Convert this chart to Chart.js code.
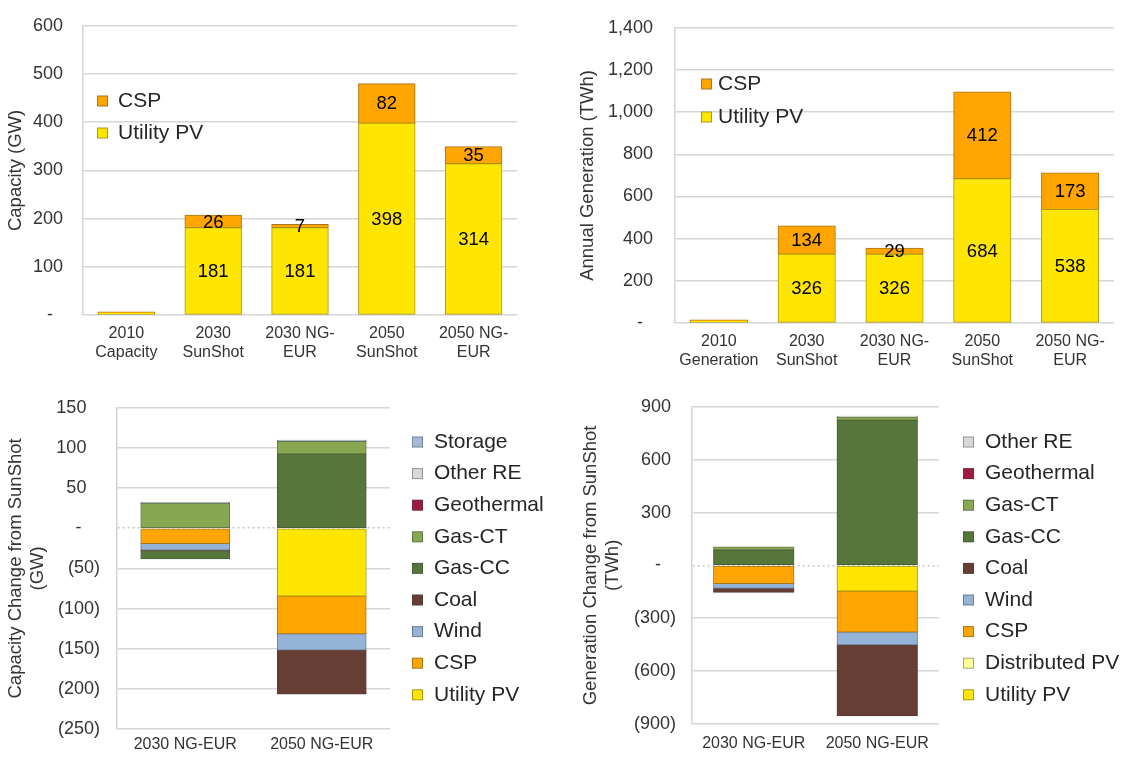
<!DOCTYPE html>
<html>
<head>
<meta charset="utf-8">
<script src="https://cdn.jsdelivr.net/npm/chart.js@4.4.1/dist/chart.umd.min.js"></script>
<style>
  html, body { margin: 0; padding: 0; background: #fff; }
  #page { position: relative; width: 1126px; height: 761px; }
  .box { position: absolute; }
</style>
</head>
<body>
<div id="page">
  <div class="box" style="left:0;top:0;width:563px;height:380px"><canvas id="capChart"></canvas></div>
  <div class="box" style="left:563px;top:0;width:563px;height:380px"><canvas id="genChart"></canvas></div>
  <div class="box" style="left:0;top:380px;width:563px;height:381px"><canvas id="capChangeChart"></canvas></div>
  <div class="box" style="left:563px;top:380px;width:563px;height:381px"><canvas id="genChangeChart"></canvas></div>
</div>
<script>
// top charts
const capCategories = [['2010', 'Capacity'], ['2030', 'SunShot'], ['2030 NG-', 'EUR'], ['2050', 'SunShot'], ['2050 NG-', 'EUR']];
const genCategories = [['2010', 'Generation'], ['2030', 'SunShot'], ['2030 NG-', 'EUR'], ['2050', 'SunShot'], ['2050 NG-', 'EUR']];
const capUtilityPV = [1.5, 181, 181, 398, 314];
const capCSP = [0.5, 26, 7, 82, 35];
const genUtilityPV = [3, 326, 326, 684, 538];
const genCSP = [1, 134, 29, 412, 173];

// bottom charts: change from SunShot
const changeCategories = ['2030 NG-EUR', '2050 NG-EUR'];
// GW
const capChUtilityPV = [0, -84.5];
const capChCSP = [-19, -47];
const capChWind = [-8, -20];
const capChCoal = [-1, -55];
const capChGasCC = [-10, 92.5];
const capChGasCT = [31, 15.5];
const capChGeothermal = [0, 0];
const capChOtherRE = [0, 0];
const capChStorage = [1, 1.5];
// TWh
const genChUtilityPV = [0, -145];
const genChDistPV = [0, 0];
const genChCSP = [-103, -233];
const genChWind = [-27, -72];
const genChCoal = [-22, -403];
const genChGasCC = [87, 824];
const genChGasCT = [18, 16];
const genChGeothermal = [0, 0];
const genChOtherRE = [0, 6];

const colors = {
  'Utility PV': '#FFE600',
  'Distributed PV': '#FFFF99',
  'CSP': '#FFA500',
  'Wind': '#95B3D7',
  'Coal': '#673E33',
  'Gas-CC': '#56763A',
  'Gas-CT': '#87A851',
  'Geothermal': '#A01A40',
  'Other RE': '#D9D9D9',
  'Storage': '#A5B9DB'
};

const FONT = '"Liberation Sans", Arial, sans-serif';
const TEXT = '#333333';
const GRID = '#d6d6d6';

// darker outline of the same hue, like the Excel bar borders
const edge = (hex) => {
  const n = parseInt(hex.slice(1), 16);
  const mix = (c) => Math.round(c * 0.55 + 60 * 0.45);
  return 'rgb(' + mix(n >> 16) + ',' + mix((n >> 8) & 255) + ',' + mix(n & 255) + ')';
};

// accounting style ticks: 1,400  (300)  -
const fmtTick = (v, posPad, zeroPad) => {
  if (v === 0) return '-' + zeroPad;
  const s = Math.abs(v).toLocaleString('en-US');
  return v < 0 ? '(' + s + ')' : s + posPad;
};

const boxLegend = {
  id: 'boxLegend',
  afterDraw(chart, args, opts) {
    if (!opts.items) return;
    const ctx = chart.ctx;
    ctx.save();
    ctx.font = '21px ' + FONT;
    ctx.textBaseline = 'middle';
    ctx.textAlign = 'left';
    opts.items.forEach((name, i) => {
      const y = opts.y + i * opts.step;
      ctx.fillStyle = edge(colors[name]);
      ctx.fillRect(opts.x, y - 5.5, 11, 11);
      ctx.fillStyle = colors[name];
      ctx.fillRect(opts.x + 1, y - 4.5, 9, 9);
      ctx.fillStyle = '#262626';
      ctx.fillText(name, opts.textX, y);
    });
    ctx.restore();
  }
};

const segmentLabels = {
  id: 'segmentLabels',
  afterDatasetsDraw(chart, args, opts) {
    if (!opts.show) return;
    const ctx = chart.ctx;
    ctx.save();
    ctx.font = '18.5px ' + FONT;
    ctx.fillStyle = '#000';
    ctx.textAlign = 'center';
    ctx.textBaseline = 'middle';
    chart.data.datasets.forEach((ds, i) => {
      chart.getDatasetMeta(i).data.forEach((bar, j) => {
        if (j < opts.skip) return;
        ctx.fillText(Math.round(ds.data[j]), bar.x, (bar.y + bar.base) / 2 + 1);
      });
    });
    ctx.restore();
  }
};

Chart.register(boxLegend, segmentLabels);

const makeDataset = (name, values, minLen) => ({
  label: name,
  data: values,
  backgroundColor: colors[name],
  borderColor: edge(colors[name]),
  borderWidth: 1,
  borderSkipped: false,
  inflateAmount: 0.5,
  minBarLength: minLen || 0,
  barPercentage: 0.65,
  categoryPercentage: 1
});

const buildChart = (id, s) => new Chart(document.getElementById(id), {
  type: 'bar',
  data: { labels: s.labels, datasets: s.datasets },
  options: {
    responsive: true,
    maintainAspectRatio: false,
    animation: false,
    layout: { padding: { left: 0, top: s.top, right: s.right, bottom: 0 } },
    plugins: {
      legend: { display: false },
      tooltip: { enabled: false },
      boxLegend: s.legend,
      segmentLabels: { show: s.labelsOn, skip: 1 }
    },
    scales: {
      x: {
        stacked: true,
        grid: { display: false, drawTicks: false },
        border: { display: false },
        ticks: { color: TEXT, font: { size: 16, family: FONT, lineHeight: 1.15 }, padding: s.xPad, maxRotation: 0, autoSkip: false },
        afterFit: (sc) => { sc.height = s.xHeight; }
      },
      y: {
        stacked: true,
        min: s.min,
        max: s.max,
        ticks: {
          stepSize: s.step,
          padding: s.tickPad,
          color: TEXT,
          font: { size: 18, family: FONT },
          callback: (v) => fmtTick(v, s.posPad, s.zeroPad)
        },
        grid: {
          drawTicks: false,
          lineWidth: 1.6,
          color: (c) => (s.dotted && c.tick && c.tick.value === 0) ? '#c4c4c4' : GRID
        },
        border: {
          display: true,
          color: GRID,
          width: 1.6,
          dash: (c) => (s.dotted && c.tick && c.tick.value === 0) ? [2, 3] : []
        },
        title: {
          display: true,
          text: s.title,
          color: TEXT,
          font: { size: 18.5, family: FONT, lineHeight: 1.22 },
          padding: { top: s.titlePad, bottom: 0 }
        },
        afterFit: (sc) => { sc.width = s.yWidth; }
      }
    }
  }
});

buildChart('capChart', {
  labels: capCategories,
  datasets: [makeDataset('Utility PV', capUtilityPV, 2), makeDataset('CSP', capCSP, 1)],
  top: 23, right: 46, xHeight: 65, xPad: 9.5, yWidth: 83,
  min: 0, max: 600, step: 100, tickPad: 15, posPad: ' ', zeroPad: '   ',
  title: 'Capacity (GW)', titlePad: 5, dotted: false, labelsOn: true,
  legend: { items: ['CSP', 'Utility PV'], x: 97, textX: 118, y: 101, step: 32 }
});

buildChart('genChart', {
  labels: genCategories,
  datasets: [makeDataset('Utility PV', genUtilityPV, 2), makeDataset('CSP', genCSP, 1)],
  top: 12, right: 12, xHeight: 57, xPad: 9.5, yWidth: 112,
  min: 0, max: 1400, step: 200, tickPad: 17, posPad: ' ', zeroPad: '   ',
  title: 'Annual Generation (TWh)', titlePad: 14, dotted: false, labelsOn: true,
  legend: { items: ['CSP', 'Utility PV'], x: 138, textX: 155, y: 84, step: 33 }
});

buildChart('capChangeChart', {
  labels: changeCategories,
  datasets: [
    makeDataset('Utility PV', capChUtilityPV),
    makeDataset('CSP', capChCSP),
    makeDataset('Wind', capChWind),
    makeDataset('Coal', capChCoal),
    makeDataset('Gas-CC', capChGasCC),
    makeDataset('Gas-CT', capChGasCT),
    makeDataset('Geothermal', capChGeothermal),
    makeDataset('Other RE', capChOtherRE),
    makeDataset('Storage', capChStorage)
  ],
  top: 13, right: 173, xHeight: 32, xPad: 6, yWidth: 117,
  min: -250, max: 150, step: 50, tickPad: 17, posPad: '  \u2009', zeroPad: '   \u2009',
  title: ['Capacity Change from SunShot', '(GW)'], titlePad: 4.5, dotted: true, labelsOn: false,
  legend: { items: ['Storage', 'Other RE', 'Geothermal', 'Gas-CT', 'Gas-CC', 'Coal', 'Wind', 'CSP', 'Utility PV'], x: 412, textX: 434, y: 62, step: 31.6 }
});

buildChart('genChangeChart', {
  labels: changeCategories,
  datasets: [
    makeDataset('Utility PV', genChUtilityPV),
    makeDataset('Distributed PV', genChDistPV),
    makeDataset('CSP', genChCSP),
    makeDataset('Wind', genChWind),
    makeDataset('Coal', genChCoal),
    makeDataset('Gas-CC', genChGasCC),
    makeDataset('Gas-CT', genChGasCT),
    makeDataset('Geothermal', genChGeothermal),
    makeDataset('Other RE', genChOtherRE)
  ],
  top: 13, right: 187, xHeight: 37, xPad: 10, yWidth: 129,
  min: -900, max: 900, step: 300, tickPad: 16, posPad: ' ', zeroPad: '   ',
  title: ['Generation Change from SunShot', '(TWh)'], titlePad: 16.5, dotted: true, labelsOn: false,
  legend: { items: ['Other RE', 'Geothermal', 'Gas-CT', 'Gas-CC', 'Coal', 'Wind', 'CSP', 'Distributed PV', 'Utility PV'], x: 400, textX: 422, y: 62, step: 31.6 }
});
</script>
</body>
</html>
